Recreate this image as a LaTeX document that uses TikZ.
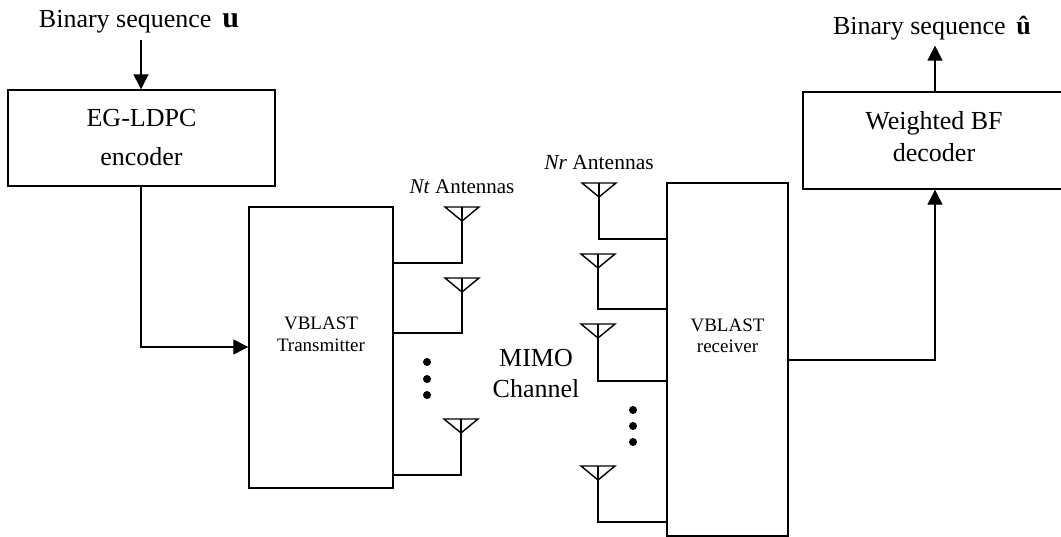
\documentclass[tikz,border=0pt]{standalone}
\usepackage{fontspec}
\setmainfont{Liberation Serif}
\usetikzlibrary{arrows.meta}
\tikzset{
  x=1pt,y=-1pt,
  box/.style={draw,line width=1.4pt,inner sep=0pt,align=center},
  wire/.style={line width=1.3pt},
  flow/.style={line width=1.3pt,-{Triangle[length=15pt,width=15pt]}},
  ant/.style={line width=1.4pt,line join=miter},
  dotm/.style={circle,fill=black,inner sep=0pt,minimum size=8pt},
  lab/.style={inner sep=0pt,align=center}
}
\newcommand{\antenna}[2]{%
  \coordinate (#1) at (#2);
  \draw[ant] ([xshift=-17pt]#1) -- ([xshift=17pt]#1) -- ([yshift=-14pt]#1) -- cycle;
  \draw[ant] (#1) -- ([yshift=-14pt]#1);
}
\begin{document}
\begin{tikzpicture}
\useasboundingbox (0,0) rectangle (1061,537);
\node[box,minimum width=267pt,minimum height=96pt,font=\fontsize{26}{39}\selectfont] (enc) at (141.5,138) {EG-LDPC\\encoder};
\node[box,minimum width=144pt,minimum height=281pt,text depth=26pt,font=\fontsize{19}{22}\selectfont] (tx) at (321,347.5) {VBLAST\\Transmitter};
\node[box,minimum width=121pt,minimum height=353pt,text depth=47pt,font=\fontsize{19}{21}\selectfont] (rx) at (727.5,359.5) {VBLAST\\receiver};
\node[box,minimum width=262pt,minimum height=97pt,text depth=8pt,font=\fontsize{26}{32}\selectfont] (dec) at (934,140.5) {Weighted BF\\decoder};
\node[lab,anchor=base,outer ysep=6.5pt,font=\fontsize{26}{30}\selectfont] (in) at (139,28) {Binary sequence\ \,{\fontsize{30}{30}\selectfont\textbf{u}}};
\node[lab,anchor=base,outer ysep=5pt,font=\fontsize{26}{30}\selectfont] (out) at (932,35) {Binary sequence\ \,\textbf{û}};
\node[lab,anchor=base,font=\fontsize{21}{25}\selectfont] (ntl) at (462,194) {\textit{Nt} Antennas};
\node[lab,anchor=base,font=\fontsize{21.5}{25}\selectfont] (nrl) at (599,170) {\textit{Nr} Antennas};
\node[lab,font=\fontsize{26}{31}\selectfont] (mimo) at (536,373.5) {MIMO\\Channel};
\draw[flow] (in.south -| 141,0) -- (enc.north -| 141,0);
\draw[flow] (enc.south -| 141,0) |- (tx.west |- 0,347);
\draw[flow] (rx.east |- 0,360) -| (dec.south -| 935,0);
\draw[flow] (dec.north -| 935,0) -- (out.south -| 935,0);
\antenna{t1}{462,207}
\antenna{t2}{462,278}
\antenna{t3}{461,419}
\antenna{r1}{599,183}
\antenna{r2}{598,254}
\antenna{r3}{598,324}
\antenna{r4}{598,466}
\draw[wire] (t1) |- (tx.east |- 0,263);
\draw[wire] (t2) |- (tx.east |- 0,333);
\draw[wire] (t3) |- (tx.east |- 0,475);
\draw[wire] (r1) |- (rx.west |- 0,239);
\draw[wire] (r2) |- (rx.west |- 0,309);
\draw[wire] (r3) |- (rx.west |- 0,381);
\draw[wire] (r4) |- (rx.west |- 0,522);
\node[dotm] (d1) at (427,362) {};
\node[dotm] (d2) at (427,379) {};
\node[dotm] (d3) at (427,395) {};
\node[dotm] (d4) at (633,410) {};
\node[dotm] (d5) at (633,426) {};
\node[dotm] (d6) at (633,442) {};
\end{tikzpicture}
\end{document}
